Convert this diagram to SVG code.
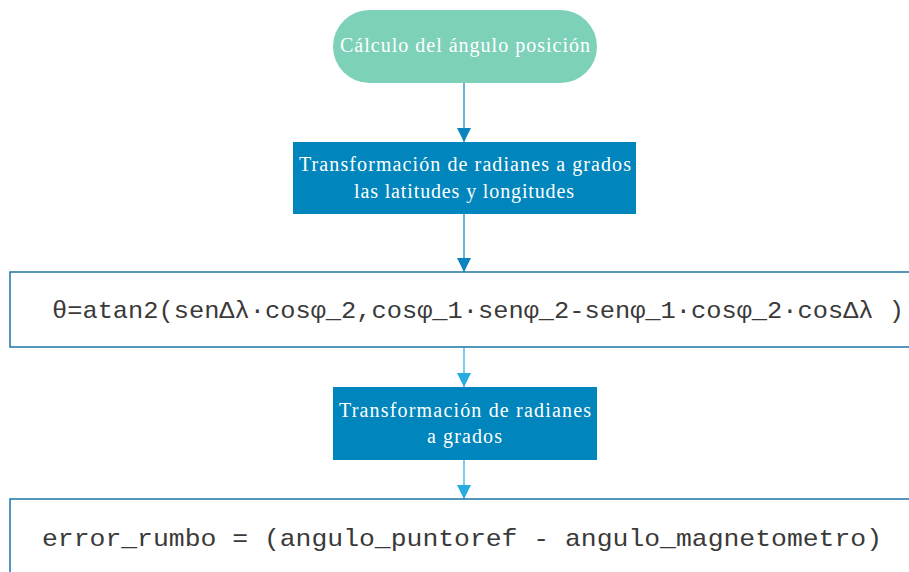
<svg xmlns="http://www.w3.org/2000/svg" width="909" height="572" viewBox="0 0 909 572">
<style>
.lbl{font-family:"Liberation Serif","Times New Roman",serif;font-size:20px;fill:#ffffff;text-anchor:middle}
.code{font-family:"Liberation Mono","Courier New",monospace;font-size:24px;fill:#3a3a3a}
.box{fill:#0085BC}
.wide{fill:#ffffff;stroke:#1B77A6;stroke-width:1.5}
.c1{stroke:#0A84BF;stroke-width:1.2;fill:none}
.c2{stroke:#29AAE1;stroke-width:1.2;fill:none}
</style>
<defs>
<marker id="a1" viewBox="0 0 10 10" refX="10" refY="5" markerWidth="14" markerHeight="14" markerUnits="userSpaceOnUse" orient="auto"><path d="M0,0L10,5L0,10z" fill="#0A84BF"/></marker>
<marker id="a2" viewBox="0 0 10 10" refX="10" refY="5" markerWidth="14" markerHeight="14" markerUnits="userSpaceOnUse" orient="auto"><path d="M0,0L10,5L0,10z" fill="#29AAE1"/></marker>
</defs>
<g id="connectors">
<line class="c1" x1="464" y1="83" x2="464" y2="142" marker-end="url(#a1)"/>
<line class="c1" x1="464" y1="214" x2="464" y2="272" marker-end="url(#a1)"/>
<line class="c2" x1="464" y1="347" x2="464" y2="387" marker-end="url(#a2)"/>
<line class="c2" x1="464" y1="460" x2="464" y2="499" marker-end="url(#a2)"/>
</g>
<g id="start">
<rect x="333" y="10" width="264" height="73" rx="36.5" fill="#7DD1B9"/>
<text class="lbl" x="465" y="52" textLength="250" lengthAdjust="spacing">Cálculo del ángulo posición</text>
</g>
<g id="transf1">
<rect class="box" x="293" y="142" width="343" height="72"/>
<text class="lbl" x="465" y="171" textLength="332" lengthAdjust="spacing">Transformación de radianes a grados</text>
<text class="lbl" x="464" y="198" textLength="220" lengthAdjust="spacing">las latitudes y longitudes</text>
</g>
<g id="formula">
<rect class="wide" x="10" y="272" width="905" height="75"/>
<text class="code" x="52" y="318" textLength="852" lengthAdjust="spacingAndGlyphs">θ=atan2(senΔλ·cosφ_2,cosφ_1·senφ_2-senφ_1·cosφ_2·cosΔλ )</text>
</g>
<g id="transf2">
<rect class="box" x="333" y="387" width="264" height="73"/>
<text class="lbl" x="465" y="417" textLength="252" lengthAdjust="spacing">Transformación de radianes</text>
<text class="lbl" x="464.5" y="443" textLength="75" lengthAdjust="spacing">a grados</text>
</g>
<g id="error">
<rect class="wide" x="10" y="499" width="905" height="80"/>
<text class="code" x="42" y="546" textLength="840" lengthAdjust="spacingAndGlyphs">error_rumbo = (angulo_puntoref - angulo_magnetometro)</text>
</g>
</svg>
